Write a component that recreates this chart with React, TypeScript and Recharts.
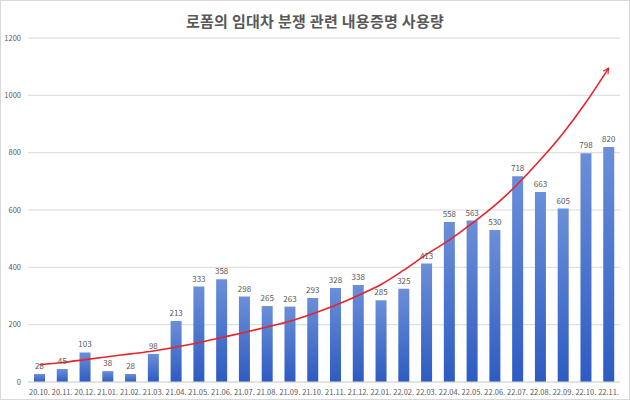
import React from "react";
import {
  ComposedChart,
  Bar,
  Line,
  XAxis,
  YAxis,
  CartesianGrid,
  LabelList,
} from "recharts";

const months = [
  "20.10.", "20.11.", "20.12.", "21.01.", "21.02.", "21.03.", "21.04.", "21.05.", "21.06.",
  "21.07.", "21.08.", "21.09.", "21.10.", "21.11.", "21.12.", "22.01.", "22.02.", "22.03.",
  "22.04.", "22.05.", "22.06.", "22.07.", "22.08.", "22.09.", "22.10.", "22.11.",
];

const usage = [
  28, 45, 103, 38, 28, 98, 213, 333, 358, 298, 265, 263, 293, 328, 338, 285, 325, 413,
  558, 563, 530, 718, 663, 605, 798, 820,
];

// red trend arrow at each month
const trend = [
  60, 68, 78, 88, 98, 108, 122, 137, 155, 173, 192, 212, 238, 268, 302, 340, 390, 445,
  495, 553, 616, 690, 775, 868, 975, 1095,
];

const yTicks = [0, 200, 400, 600, 800, 1000, 1200];

const data = months.map((m, i) => ({ month: m, usage: usage[i], trend: trend[i] }));

const FONT = '"Noto Sans CJK KR", "Noto Sans", sans-serif';

export default function App() {
  return (
    <div
      style={{
        position: "absolute",
        left: 0,
        top: 0,
        width: 630,
        height: 400,
        boxSizing: "border-box",
        border: "1px solid #d9d9d9",
        background: "#fff",
        fontFamily: FONT,
      }}
    >
      <div
        style={{
          position: "absolute",
          top: 9,
          left: 0,
          width: "100%",
          textAlign: "center",
          fontSize: 15,
          fontWeight: 700,
          color: "#595959",
          letterSpacing: 0.3,
        }}
      >
        로폼의 임대차 분쟁 관련 내용증명 사용량
      </div>
      <ComposedChart
        width={628}
        height={398}
        data={data}
        margin={{ top: 37, right: 9, left: 7, bottom: 0 }}
        style={{ position: "absolute", left: 0, top: 0 }}
      >
        <defs>
          <linearGradient id="barFill" x1="0" y1="0" x2="0" y2="1">
            <stop offset="0%" stopColor="#6b8fd8" />
            <stop offset="100%" stopColor="#2d5bc2" />
          </linearGradient>
          <marker
            id="arrowHead"
            viewBox="0 0 10 10"
            refX="9"
            refY="5"
            markerWidth="7"
            markerHeight="7"
            markerUnits="userSpaceOnUse"
            orient="auto"
          >
            <path d="M1,1 L9,5 L1,9" fill="none" stroke="#e8242a" strokeWidth="1.6" />
          </marker>
        </defs>
        <CartesianGrid vertical={false} stroke="#d9d9d9" />
        <XAxis
          dataKey="month"
          height={17}
          axisLine={{ stroke: "#d9d9d9" }}
          tickLine={false}
          tickMargin={2}
          interval={0}
          tick={{ fontSize: 7.5, fill: "#595959", fontFamily: FONT }}
        />
        <YAxis
          width={20}
          domain={[0, 1200]}
          ticks={yTicks}
          axisLine={false}
          tickLine={false}
          tickMargin={1}
          tick={{ fontSize: 7.5, fill: "#595959", fontFamily: FONT }}
        />
        <Bar dataKey="usage" fill="url(#barFill)" barSize={11} isAnimationActive={false}>
          <LabelList
            dataKey="usage"
            position="top"
            offset={5}
            style={{ fontSize: 8, fill: "#595959", fontFamily: FONT }}
          />
        </Bar>
        <Line
          dataKey="trend"
          type="monotone"
          stroke="#e8242a"
          strokeWidth={1.6}
          dot={false}
          activeDot={false}
          markerEnd="url(#arrowHead)"
          isAnimationActive={false}
        />
      </ComposedChart>
    </div>
  );
}
